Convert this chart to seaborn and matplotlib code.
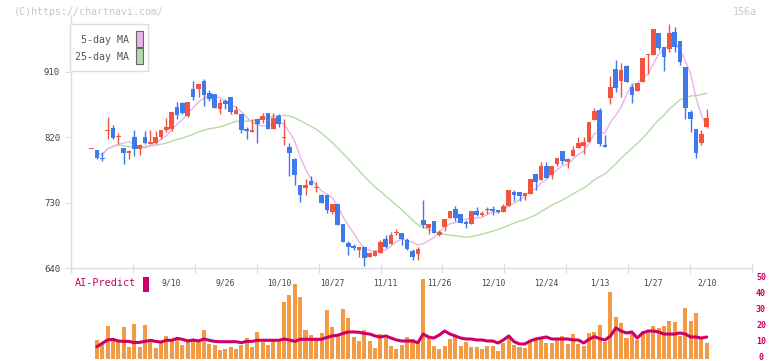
import numpy as np
import pandas as pd
import matplotlib
matplotlib.use("Agg")
import matplotlib.pyplot as plt
from matplotlib.patches import Rectangle
from matplotlib.transforms import blended_transform_factory
import seaborn as sns

# ---------------- data ----------------
date_labels = ["9/10", "9/26", "10/10", "10/27", "11/11", "11/26",
               "12/10", "12/24", "1/13", "1/27", "2/10"]
date_label_idx = [15, 25, 35, 45, 55, 65, 75, 85, 95, 105, 115]
y_ticks = [640, 730, 820, 910]
ai_ticks = [0, 10, 20, 30, 40, 50]

opens = [804.8, 803, 791.5, 829.5, 833.3, 820.5, 805, 799, 820.5, 804.3,
         820.5, 811.2, 812, 821, 830, 831, 861.4, 867.7, 850, 886.6,
         886.2, 897.6, 880.7, 879.7, 859.5, 870, 875.6, 852.6, 852.2, 831,
         827.8, 845.3, 843.9, 853.5, 831.9, 849.8, 819.5, 806.7, 790.2, 754.3,
         749.8, 759.8, 751, 740.6, 740.6, 717.6, 728.2, 700.6, 674, 669.9,
         664.8, 669, 655.6, 656.5, 660.7, 680, 673, 689, 687.8, 678.6,
         663.4, 659.3, 706, 695.5, 704.7, 685.5, 696, 709.3, 721.3, 714.4,
         703.4, 701, 718, 713, 720, 721.7, 720.3, 717.6, 725.4, 744.7,
         744.7, 739.2, 742.4, 769.5, 761.2, 780.5, 767.7, 783.3, 800.7, 786.4,
         794.7, 805.7, 808.5, 814, 844.3, 857.7, 809.4, 873.8, 914.2, 897.6,
         918.3, 889.3, 883.8, 896.2, 933.3, 933.8, 963.7, 944.4, 941.7, 965.1,
         952.7, 916.9, 854.9, 831.5, 812.2, 834.2]
highs = [805.3, 803, 799.4, 848, 837, 825.6, 805, 802.6, 830.1, 810.8,
         829.2, 830.1, 828.7, 830, 846.6, 855, 868.7, 868.7, 869, 897,
         893.5, 900, 885.2, 880, 872.8, 873.3, 875.6, 863.2, 852.2, 833.8,
         845.3, 845.3, 853.5, 853.5, 853.5, 851.7, 845.3, 812.6, 791.5, 755,
         762.6, 766.7, 758.5, 742.4, 740.6, 728.2, 728.2, 700.6, 677.6, 672.6,
         669, 669, 662, 665.2, 678.6, 685.5, 690, 693.3, 687.8, 681,
         666.2, 669.3, 733.7, 700.6, 704.7, 692.3, 707, 718.5, 725, 714.4,
         706, 718, 724, 719, 724, 725.4, 720.3, 728.2, 747.4, 747,
         744.7, 743.3, 762.6, 769.5, 786, 786, 780.5, 791.5, 800.7, 791.5,
         808, 820.5, 820.5, 841, 860.4, 860.4, 823.2, 904.5, 926.5, 922,
         919.7, 893.5, 894.9, 929.3, 934.5, 969.2, 963.7, 944.4, 976, 972,
         952.7, 916.9, 857.7, 831.5, 830, 859]
lows = [804.8, 790, 787.8, 817.7, 817.7, 810.8, 783.3, 790.6, 794.3, 795.7,
        810.8, 811.2, 811, 817.7, 828, 829, 845.7, 852, 848, 871.4,
        876, 863.6, 870, 860, 851.7, 859.5, 852.6, 852.6, 826.4, 818,
        827.8, 812.6, 840, 831, 831.9, 834.2, 809.9, 767.2, 754.3, 731.3,
        740.6, 754.7, 744.7, 730, 715.4, 714, 699.2, 676.2, 658.3, 664.8,
        655.6, 643.2, 654.7, 656.5, 660.7, 667, 673, 685, 671.7, 664.8,
        650.6, 651, 695.5, 687.3, 688.6, 684, 691.4, 709.3, 704.7, 701.5,
        695.5, 701, 711.6, 711.6, 715, 713.4, 715.4, 717.6, 725.4, 732.7,
        732.7, 733, 742.4, 747.4, 761.2, 764, 762.6, 780.5, 782.9, 777.3,
        794.7, 805.7, 797.5, 814, 844.3, 808, 807, 866, 882.9, 876,
        896.2, 867.7, 883.8, 896.2, 907, 933.8, 940.3, 911.4, 937.6, 937.6,
        920, 845.3, 827.8, 792, 809.4, 832.9]
closes = [805.3, 791, 791, 830, 819.1, 821, 798.4, 801.6, 804.3, 809.4,
          812.6, 813.6, 820.5, 830, 833.8, 855, 850.8, 853, 868.7, 876,
          893.5, 878.7, 872.8, 860.8, 867.7, 866.3, 855.3, 857.7, 830.1, 829,
          830.1, 838.8, 849.8, 831.9, 846.6, 838.4, 820.5, 798.8, 768.5, 740.6,
          754.3, 754.7, 751.6, 730, 719.5, 728.2, 699.2, 676.2, 669.3, 667.6,
          669, 654.2, 661, 663, 675.8, 668.5, 685, 690, 680.4, 666.2,
          655.2, 666.2, 699.2, 700.6, 688.6, 690, 707, 718.5, 708.5, 701.5,
          701, 718, 713.4, 715.8, 720.6, 719, 716.7, 725.4, 747.4, 740,
          739.2, 743.3, 762.6, 758.9, 780.5, 764, 780.5, 791.5, 787, 790.2,
          802.6, 812.2, 813.6, 841, 856.7, 810.8, 807, 889.3, 888, 912.8,
          896.2, 878.7, 894.9, 929.3, 934.2, 969.2, 943, 931.1, 963.7, 944,
          923.8, 860.4, 845.3, 798.8, 824.6, 846.6]

ai_bars = [np.nan, 11.9, 9.8, 20.6, 13.1, 11.3, 20.2, 7.5, 21.9, 7.5,
           21.3, 11.3, 6.9, 10.0, 14.4, 11.3, 13.1, 8.75, 11.3, 11.9,
           10.6, 18.1, 9.4, 8.75, 5.6, 6.25, 7.5, 6.25, 8.75, 13.1,
           7.5, 16.9, 10.6, 8.75, 11.3, 11.9, 35.6, 40.0, 46.9, 38.75,
           18.1, 15.0, 12.5, 16.25, 30.6, 20.0, 14.4, 31.25, 25.6, 13.75,
           11.3, 18.1, 11.3, 6.9, 15.6, 13.0, 8.1, 6.25, 8.75, 13.75,
           12.5, 10.6, 50.0, 13.1, 8.1, 6.25, 8.1, 12.5, 13.75, 8.1,
           10.6, 7.5, 7.5, 6.25, 8.1, 8.1, 5.0, 10.0, 14.4, 8.75,
           7.5, 6.9, 11.9, 12.5, 13.1, 10.0, 10.0, 11.9, 14.4, 9.4,
           15.6, 9.4, 8.1, 16.25, 16.9, 21.25, 10.6, 41.9, 26.25, 22.5,
           13.1, 16.9, 11.9, 17.5, 17.5, 20.6, 19.4, 20.6, 23.75, 23.1,
           14.4, 31.9, 23.75, 28.75, 13.0, 10.0]
ai_line = [np.nan, 7.7, 9.8, 11.9, 12.3, 11.25, 11.0, 11.0, 10.2, 10.4,
           11.0, 11.7, 11.0, 10.6, 11.7, 11.7, 12.9, 12.3, 11.25, 11.9,
           11.25, 12.5, 11.7, 11.0, 10.8, 10.8, 10.8, 10.8, 10.2, 11.0,
           11.0, 11.7, 11.7, 11.7, 11.7, 11.7, 12.5, 11.9, 11.0, 12.3,
           12.3, 12.3, 12.3, 12.3, 13.5, 14.4, 14.8, 16.0, 16.9, 16.9,
           16.7, 16.0, 15.6, 14.4, 13.75, 14.4, 13.1, 11.9, 11.25, 11.25,
           11.25, 10.2, 15.6, 13.75, 13.1, 15.0, 17.5, 15.6, 14.4, 13.1,
           12.5, 12.5, 11.9, 11.9, 11.25, 11.25, 10.0, 11.9, 14.4, 10.8,
           9.4, 9.4, 11.25, 12.5, 13.1, 13.75, 12.5, 12.5, 12.5, 12.5,
           11.9, 11.9, 10.0, 12.3, 14.0, 12.7, 11.9, 14.4, 19.4, 17.5,
           16.25, 16.9, 13.1, 16.25, 17.5, 17.5, 16.9, 15.6, 15.6, 15.6,
           16.25, 15.6, 13.75, 13.75, 13.1, 13.75]

# ---------------- style ----------------
RED = "#f2543f"
BLUE = "#4079ec"
MA5_C = "#e8b4e9"
MA25_C = "#b4dba6"
ORANGE = "#f39a44"
MAG = "#cc0066"
GRID = "#dddddd"
TXT = "#444444"

sns.set_theme(style="white")
plt.rcParams["font.family"] = ["DejaVu Sans Mono", "DejaVu Sans"]

W, H = 772, 361
fig = plt.figure(figsize=(W / 100, H / 100), dpi=100)


def fx(px):
    return px / W


def fy(py):
    return 1 - py / H


L, R, T, B = 71, 752, 15, 268
ax = fig.add_axes([fx(L), fy(B), (R - L) / W, (B - T) / H])
ax2 = fig.add_axes([fx(L), fy(359), (R - L) / W, 80 / H])

n = len(closes)
idx = np.arange(n)
x0px, dxpx = 91.5, 5.35
xlim = ((L - x0px) / dxpx, (R - x0px) / dxpx)
px_per_unit = (B - T) / 348.5
ylim = (640, 640 + (B - T) / px_per_unit)

df = pd.DataFrame({"i": idx, "open": opens, "high": highs,
                   "low": lows, "close": closes})
df["ma5"] = df["close"].rolling(5, min_periods=1).mean()
df["ma25"] = df["close"].rolling(25, min_periods=1).mean()
df.loc[0, ["ma5", "ma25"]] = np.nan

# moving averages
sns.lineplot(data=df, x="i", y="ma25", ax=ax, color=MA25_C, lw=1.0,
             estimator=None, zorder=2)
sns.lineplot(data=df, x="i", y="ma5", ax=ax, color=MA5_C, lw=1.0,
             estimator=None, zorder=2)

# candles
o = df["open"].to_numpy()
c = df["close"].to_numpy()
up = c >= o
cols = np.where(up, RED, BLUE)
diff = np.abs(c - o)
minh = 1.4
body_h = np.maximum(diff, minh)
body_lo = np.minimum(o, c) - (body_h - diff) / 2
ax.vlines(idx, df["low"], df["high"], colors=cols, lw=1.0, zorder=3)
ax.bar(idx, body_h, bottom=body_lo, width=0.86, color=cols, lw=0, zorder=4)

ax.set_xlim(xlim)
ax.set_ylim(ylim)
ax.set_xlabel("")
ax.set_ylabel("")
for s in ["top", "right"]:
    ax.spines[s].set_visible(False)
for s in ["left", "bottom"]:
    ax.spines[s].set_color(GRID)
    ax.spines[s].set_linewidth(1.0)
ax.set_yticks(y_ticks)
ax.set_yticklabels([str(v) for v in y_ticks])
ax.tick_params(axis="y", length=4.3, width=0.8, color=GRID, pad=3.6,
               labelsize=6.5, labelcolor=TXT, left=True)
ax.set_xticks(np.linspace(xlim[0], xlim[1], 12))
ax.set_xticklabels([])
ax.tick_params(axis="x", direction="inout", length=6.5, width=0.9,
               color=GRID, bottom=True)
ax.grid(False)

trans = blended_transform_factory(ax.transData, ax.transAxes)
for lab, i in zip(date_labels, date_label_idx):
    ax.text(i, (B - 283) / (B - T), lab, transform=trans, ha="center",
            va="center", fontsize=5.8, color=TXT, clip_on=False)

# AI-Predict panel
ax2.bar(idx, ai_bars, width=0.75, color=ORANGE, lw=0, zorder=2)
sns.lineplot(x=idx, y=ai_line, ax=ax2, color=MAG, lw=2.2, zorder=3)
ax2.set_xlim(xlim)
ax2.set_ylim(0, 50)
ax2.axis("off")
trans2 = blended_transform_factory(ax2.transAxes, ax2.transData)
for v in ai_ticks:
    ax2.text((761 - L) / (R - L), v + 1.2, str(v), transform=trans2,
             ha="center", va="center", fontsize=6.0, fontweight="bold",
             color=MAG, clip_on=False)

fig.text(fx(75), fy(283), "AI-Predict", ha="left", va="center",
         fontsize=7.3, color=MAG)
fig.patches.append(Rectangle((fx(143), fy(292)), 6 / W, 15 / H,
                             transform=fig.transFigure, facecolor=MAG,
                             edgecolor="none"))

# watermark
fig.text(fx(14), fy(12), "(C)https://chartnavi.com/", ha="left",
         va="center", fontsize=7.2, color="#c8c8c8")
fig.text(fx(757), fy(12), "156a", ha="right", va="center",
         fontsize=7.2, color="#c8c8c8")

# legend box
fig.patches.append(Rectangle((fx(70), fy(71)), 78 / W, 47 / H,
                             transform=fig.transFigure, facecolor="white",
                             edgecolor=GRID, lw=1.0, zorder=5))
for ytxt, ysw, lab, col in [(40, 31.5, "5-day MA", MA5_C),
                            (57, 48.5, "25-day MA", MA25_C)]:
    fig.text(fx(129), fy(ytxt), lab, ha="right", va="center",
             fontsize=7.2, color="#555555", zorder=6)
    fig.patches.append(Rectangle((fx(136), fy(ysw + 15)), 7 / W, 15 / H,
                                 transform=fig.transFigure, facecolor=col,
                                 edgecolor="#666666", lw=0.8, zorder=6))

fig.savefig("out.png", dpi=100)
